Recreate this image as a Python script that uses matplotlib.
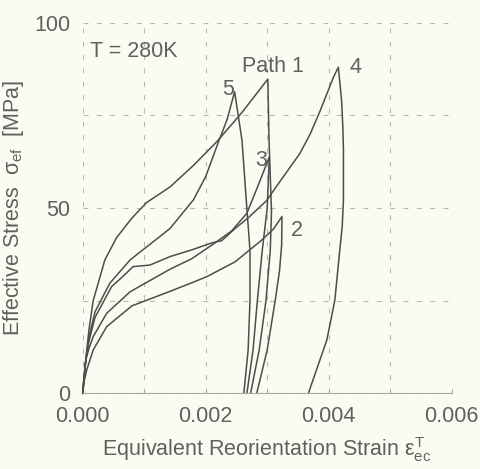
import matplotlib
matplotlib.use("Agg")
import matplotlib.pyplot as plt
from matplotlib.ticker import FixedLocator, MultipleLocator, FormatStrFormatter

# strain [-] and effective stress [MPa]
path1_x = [0, 0.00002, 0.00005, 0.0001, 0.00017, 0.00036, 0.00055, 0.0008, 0.00104, 0.00142,
           0.0018, 0.00218, 0.0026, 0.00301, 0.00303, 0.00307, 0.00305, 0.00298, 0.00287,
           0.00273]
path1_y = [0, 4, 9, 17, 25, 36, 42, 47.3, 51.5, 55.7, 61.5, 67.9, 76, 84.8, 68.3, 49, 38.6,
           25, 11.7, 0]

path2_x = [0, 0.00002, 0.000065, 0.00017, 0.00039, 0.0008, 0.0014, 0.00177, 0.00202, 0.00225,
           0.00248, 0.0027, 0.0029, 0.0031, 0.00324, 0.003235, 0.0032, 0.00313, 0.0030,
           0.00283]
path2_y = [0, 3, 6.3, 11.7, 18, 23.6, 27.4, 29.8, 31.5, 33.5, 35.5, 38.5, 41.2, 44.3, 47.7,
           40, 33, 25, 11.7, 0]

path3_x = [0, 0.00002, 0.00005, 0.0001, 0.00017, 0.00039, 0.00077, 0.00142, 0.00177, 0.0021,
           0.00242, 0.00267, 0.00285, 0.003035, 0.0030, 0.00292, 0.00284, 0.00277, 0.00267]
path3_y = [0, 4, 9, 12, 15.3, 21.6, 27.4, 33.5, 36.3, 40, 43.8, 48.6, 56, 63.8, 50, 38.6,
           25, 11.7, 0]

path4_x = [0, 0.00002, 0.00005, 0.0001, 0.0002, 0.00047, 0.00065, 0.00082, 0.00109, 0.00142,
           0.00177, 0.0021, 0.00226, 0.00248, 0.0027, 0.00299, 0.0032, 0.00353, 0.0037,
           0.00386, 0.00408, 0.004157, 0.00421, 0.00423, 0.00424, 0.00424, 0.00422, 0.00418,
           0.0041, 0.00397, 0.00367]
path4_y = [0, 4, 9, 14, 20.5, 28.8, 31.5, 34.2, 34.6, 36.9, 38.7, 40.6, 41.2, 44.5, 47.5,
           52, 57, 64.7, 70, 76.2, 85.4, 88, 79, 72, 65.6, 52.1, 45, 38.6, 25.1, 14.4, 0]

path5_x = [0, 0.00002, 0.00005, 0.0001, 0.0002, 0.00044, 0.00077, 0.00123, 0.00142, 0.0018,
           0.002, 0.0022, 0.00235, 0.00247, 0.00259, 0.00266, 0.00272, 0.00272, 0.00269,
           0.00262]
path5_y = [0, 4, 9, 15, 22, 29.7, 36, 42, 44.5, 52.2, 58.5, 67.5, 74, 81.4, 68.3, 52, 38.6,
           25, 11.7, 0]

# path labels and where they sit
path_labels = ["Path 1", "2", "3", "4", "5"]
label_x = [0.0031, 0.00349, 0.0029, 0.00444, 0.00236]
label_y = [88.3, 44, 62.7, 87.8, 82]

x_ticks = [0.000, 0.002, 0.004, 0.006]
y_ticks = [0, 50, 100]

BG = "#fafbf1"
LINE = "#4d4d4d"
TEXT = "#606060"
FS = 15.5

plt.rcParams["font.family"] = ["Liberation Sans", "DejaVu Sans"]
plt.rcParams["mathtext.fontset"] = "custom"
plt.rcParams["mathtext.rm"] = "Liberation Sans"
plt.rcParams["mathtext.it"] = "Liberation Sans"

fig = plt.figure(figsize=(4.81, 4.69), dpi=100, facecolor=BG)
ax = fig.add_axes([0.172, 0.1614, 0.767, 0.790], facecolor=BG)

for xs, ys in [(path1_x, path1_y), (path2_x, path2_y), (path3_x, path3_y),
               (path4_x, path4_y), (path5_x, path5_y)]:
    ax.plot(xs, ys, color=LINE, lw=1.1, solid_joinstyle="round", clip_on=False)

for lab, lx, ly in zip(path_labels, label_x, label_y):
    ax.text(lx, ly, lab, ha="center", va="center", fontsize=FS, color=TEXT)

ax.text(0.00012, 92.2, "T = 280K", ha="left", va="center", fontsize=FS, color=TEXT)

ax.set_xlim(0, 0.006)
ax.set_ylim(0, 100)
ax.xaxis.set_major_locator(FixedLocator(x_ticks))
ax.xaxis.set_major_formatter(FormatStrFormatter("%.3f"))
ax.xaxis.set_minor_locator(MultipleLocator(0.001))
ax.yaxis.set_major_locator(FixedLocator(y_ticks))
ax.yaxis.set_minor_locator(MultipleLocator(25))

ax.grid(True, which="both", color="#b8b8b0", lw=0.8, linestyle=(0, (4.5, 7.5)))
for side in ["top", "right", "left"]:
    ax.spines[side].set_visible(False)
ax.spines["bottom"].set_color("#a8a8a0")
ax.spines["bottom"].set_linewidth(0.8)

ax.tick_params(axis="x", which="both", direction="in", length=3, color="#a8a8a0",
               labelsize=FS, labelcolor=TEXT, pad=9)
ax.tick_params(axis="y", which="both", length=0, labelsize=FS, labelcolor=TEXT, pad=9)

ax.set_xlabel(r"Equivalent Reorientation Strain $\varepsilon^{\mathrm{T}}_{\mathrm{ec}}$",
              fontsize=FS, color=TEXT, labelpad=6)
ax.set_ylabel(r"Effective Stress  $\sigma_{\mathrm{ef}}$  [MPa]", fontsize=FS,
              color=TEXT, labelpad=6)

fig.savefig("out.png", dpi=100, facecolor=BG)
